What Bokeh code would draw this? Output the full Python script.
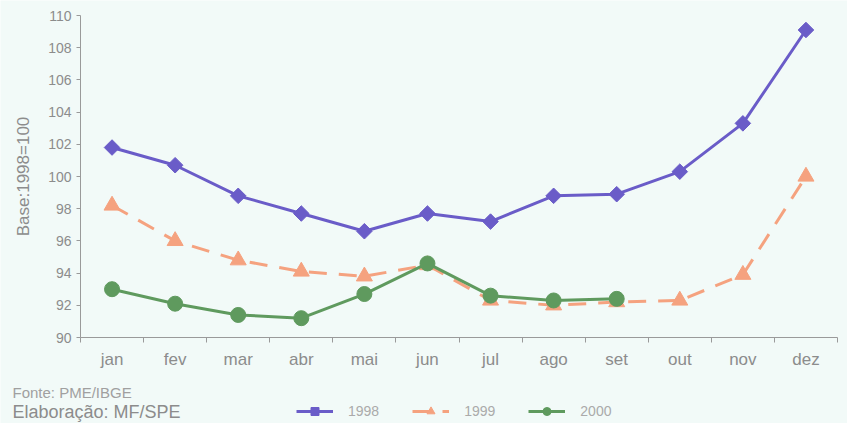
import math
from bokeh.plotting import figure
from bokeh.models import FixedTicker, Label, Legend, LegendItem, Range1d
from bokeh.embed import file_html
from bokeh.resources import INLINE

months = ["jan", "fev", "mar", "abr", "mai", "jun", "jul", "ago", "set", "out", "nov", "dez"]
s1998 = [101.8, 100.7, 98.8, 97.7, 96.6, 97.7, 97.2, 98.8, 98.9, 100.3, 103.3, 109.1]
s1999 = [98.2, 96.0, 94.8, 94.1, 93.8, 94.5, 92.3, 92.0, 92.2, 92.3, 93.9, 100.0]
s2000 = [93.0, 92.1, 91.4, 91.2, 92.7, 94.6, 92.6, 92.3, 92.4]
y_ticks = list(range(90, 111, 2))

BG = "#f2faf8"
FONT = "Liberation Sans"
C98 = "#6a5cc8"
C99 = "#f5a27f"
C00 = "#5f9a5e"

W, H = 847, 423
# pixel layout of the axes box inside the page
AX_L, AX_R, AX_T, AX_B = 80, 837, 15, 337
YMIN, YMAX = 90, 110
NCAT = len(months)
px_x = (AX_R - AX_L) / NCAT
px_y = (AX_B - AX_T) / (YMAX - YMIN)

xs = [i + 0.5 for i in range(NCAT)]

p = figure(width=W, height=H, output_backend="svg", toolbar_location=None,
           x_range=Range1d(-AX_L / px_x, NCAT + (W - AX_R) / px_x),
           y_range=Range1d(YMIN - (H - AX_B) / px_y, YMAX + AX_T / px_y),
           min_border_left=0, min_border_right=0, min_border_top=0, min_border_bottom=0)
p.background_fill_color = BG
p.border_fill_color = BG
p.outline_line_color = None
p.grid.visible = False

r1_l = p.line(xs, s1998, line_color=C98, line_width=3)
r1_m = p.scatter(xs, s1998, marker="square", size=11, angle=math.pi / 4,
                 fill_color=C98, line_color=C98)
r2_l = p.line(xs, s1999, line_color=C99, line_width=3, line_dash="18 12")
r2_m = p.scatter(xs, s1999, marker="triangle", size=16, fill_color=C99, line_color=C99)
r3_l = p.line(xs[:len(s2000)], s2000, line_color=C00, line_width=3)
r3_m = p.scatter(xs[:len(s2000)], s2000, marker="circle", size=15, fill_color=C00, line_color=C00)

xa = p.xaxis[0]
xa.fixed_location = YMIN
xa.bounds = (0, NCAT)
xa.ticker = FixedTicker(ticks=xs, minor_ticks=list(range(0, NCAT + 1)))
xa.major_label_overrides = {x: m for x, m in zip(xs, months)}
xa.major_tick_out = 0
xa.major_tick_in = 0
xa.minor_tick_out = 5
xa.minor_tick_in = 0
xa.axis_line_color = "#9a9a9a"
xa.minor_tick_line_color = "#9a9a9a"
xa.major_label_text_font = FONT
xa.major_label_text_font_size = "17px"
xa.major_label_text_color = "#8c8c8c"
xa.major_label_standoff = 7

ya = p.yaxis[0]
ya.fixed_location = 0
ya.bounds = (YMIN, YMAX)
ya.ticker = FixedTicker(ticks=y_ticks)
ya.minor_tick_line_color = None
ya.major_tick_out = 4
ya.major_tick_in = 0
ya.axis_line_color = "#9a9a9a"
ya.major_tick_line_color = "#9a9a9a"
ya.major_label_text_font = FONT
ya.major_label_text_font_size = "14px"
ya.major_label_text_color = "#8c8c8c"
ya.major_label_standoff = 5
ya.axis_label = "Base:1998=100"
ya.axis_label_text_font = FONT
ya.axis_label_text_font_style = "normal"
ya.axis_label_text_font_size = "17px"
ya.axis_label_text_color = "#8c8c8c"
ya.axis_label_standoff = 12

legend = Legend(items=[
    LegendItem(label="1998", renderers=[r1_l, r1_m]),
    LegendItem(label="1999", renderers=[r2_l, r2_m]),
    LegendItem(label="2000", renderers=[r3_l, r3_m]),
], orientation="horizontal", location=(296, 2),
    background_fill_alpha=0, border_line_color=None,
    glyph_width=37, label_standoff=15, spacing=33,
    label_text_font=FONT, label_text_font_size="14px", label_text_color="#aaaaaa",
    padding=0, margin=0)
p.add_layout(legend, "center")

p.add_layout(Label(x=12, y=23, x_units="screen", y_units="screen", text="Fonte: PME/IBGE",
                   text_font=FONT, text_font_size="15px", text_color="#a0a0a0"))
p.add_layout(Label(x=12, y=2, x_units="screen", y_units="screen", text="Elaboração: MF/SPE",
                   text_font=FONT, text_font_size="18px", text_color="#8c8c8c"))

open("out.html", "w").write(file_html(p, INLINE))
